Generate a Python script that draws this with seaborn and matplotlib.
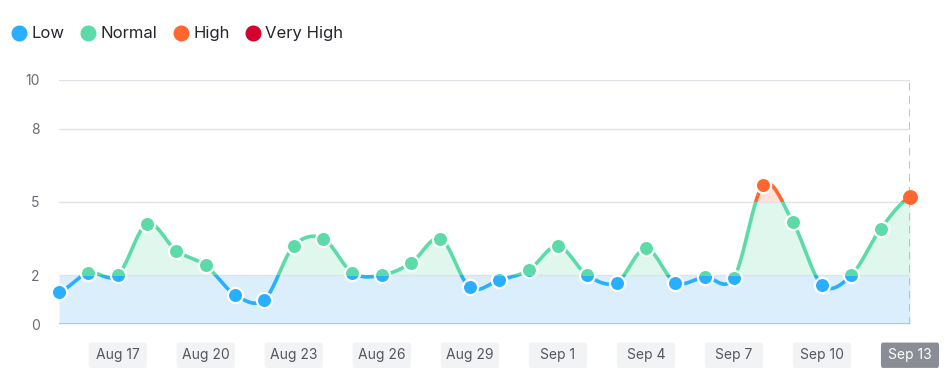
import numpy as np
import pandas as pd
import matplotlib
matplotlib.use("Agg")
import matplotlib.pyplot as plt
import seaborn as sns
from matplotlib.lines import Line2D
from matplotlib.patches import Rectangle, FancyBboxPatch
import matplotlib.transforms as mtransforms

# data
start_date = "2023-08-15"
values = [1.3, 2.1, 2.0, 4.1, 3.0, 2.4, 1.2, 1.0, 3.2, 3.5,
          2.1, 2.0, 2.5, 3.5, 1.5, 1.8, 2.2, 3.2, 2.0, 1.7,
          3.1, 1.7, 1.92, 1.9, 5.7, 4.2, 1.6, 2.0, 3.9, 5.2]
levels = ["Low", "Normal", "High", "Very High"]
level_colors = ["#2AAEFF", "#5CDBA8", "#FF6630", "#D4002E"]
fill_colors = ["#DAEEFC", "#DFF7EC", "#FFE1D8"]
bands = [(-1, 2), (2, 5), (5, 12)]
y_ticks = [0, 2, 5, 8, 10]

dates = pd.date_range(start_date, periods=len(values), freq="D")
x = np.arange(len(values))
y = np.array(values)


def catmull(xp, yp, n=24):
    # smooth curve through the points (uniform catmull-rom)
    m = np.zeros_like(yp)
    m[1:-1] = (yp[2:] - yp[:-2]) / 2
    m[0] = (yp[1] - yp[0]) / 2
    m[-1] = (yp[-1] - yp[-2]) / 2
    xs, ys = [], []
    for i in range(len(xp) - 1):
        t = np.linspace(0, 1, n, endpoint=False)
        h00 = 2 * t**3 - 3 * t**2 + 1
        h10 = t**3 - 2 * t**2 + t
        h01 = -2 * t**3 + 3 * t**2
        h11 = t**3 - t**2
        xs.append(xp[i] + t)
        ys.append(h00 * yp[i] + h10 * m[i] + h01 * yp[i + 1] + h11 * m[i + 1])
    xs.append([xp[-1]])
    ys.append([yp[-1]])
    return np.concatenate(xs), np.concatenate(ys)


sx, sy = catmull(x.astype(float), y)
curve = pd.DataFrame({"x": sx, "y": sy})
points = pd.DataFrame({"x": x, "y": y})

sns.set_theme(style="white")
plt.rcParams["font.family"] = ["Inter", "DejaVu Sans"]

fig = plt.figure(figsize=(9.47, 3.8), dpi=100)
ax = fig.add_axes([59 / 947, 1 - 324 / 380, 851 / 947, 244 / 380])
ax.set_xlim(0, len(values) - 1)
ax.set_ylim(0, 10)


def band_clip(lo, hi):
    return Rectangle((-2, lo), len(values) + 3, hi - lo, transform=ax.transData)


# fills per band
for (lo, hi), fc in zip(bands, fill_colors):
    poly = ax.fill_between(sx, 0, np.maximum(sy, 2), color=fc, lw=0, zorder=1)
    poly.set_clip_path(band_clip(lo, hi))

for t in y_ticks[1:]:
    ax.axhline(t, color="#E1E1E8", lw=1, zorder=2)
ax.axhline(0, color="#A9C2DA", lw=1.2, zorder=2)

ax.axvline(len(values) - 1, color="#ACAFB8", lw=1.8, ls=(0, (3, 2.2)), zorder=2)

# line and markers, split in colour at the level thresholds
for (lo, hi), col in zip(bands, level_colors[:3]):
    sns.lineplot(data=curve, x="x", y="y", ax=ax, color=col, lw=2.6,
                 sort=False, estimator=None, zorder=3)
    ax.lines[-1].set_clip_path(band_clip(lo, hi))
for (lo, hi), col in zip(bands, level_colors[:3]):
    sns.scatterplot(data=points.iloc[:-1], x="x", y="y", ax=ax, color=col, s=120,
                    edgecolor="white", linewidth=1.6, zorder=4)
    ax.collections[-1].set_clip_path(band_clip(lo, hi))

# hovered last point
sns.scatterplot(data=points.iloc[-1:], x="x", y="y", ax=ax, color=level_colors[2],
                s=115, linewidth=0, zorder=5)
ax.collections[-1].set_clip_on(False)

ax.set_xlabel("")
ax.set_ylabel("")
ax.set_yticks(y_ticks)
ax.set_yticklabels([str(t) for t in y_ticks], color="#6A6B75", fontsize=10)
ax.tick_params(axis="y", length=0, pad=14)
ax.set_xticks([])
for s in ax.spines.values():
    s.set_visible(False)

# date labels in rounded boxes
tr = mtransforms.blended_transform_factory(ax.transData, ax.transAxes)
for i in x[2::3]:
    last = i == len(values) - 1
    box = FancyBboxPatch((i - 0.99, -0.18), 1.98, 0.104,
                         boxstyle="round,pad=0,rounding_size=0.06",
                         transform=tr, clip_on=False, lw=0,
                         fc="#8A8C96" if last else "#F2F3F5",
                         mutation_aspect=0.25)
    ax.add_patch(box)
    ax.text(i, -0.128, f"{dates[i]:%b} {dates[i].day}", transform=tr,
            ha="center", va="center", fontsize=10,
            color="white" if last else "#55565F")

handles = [Line2D([], [], marker="o", ls="", markersize=10.5, color=c, label=l)
           for c, l in zip(level_colors, levels)]
fig.legend(handles=handles, loc="upper left", bbox_to_anchor=(-0.006, 0.97),
           ncol=4, frameon=False, fontsize=12, handletextpad=0.15,
           columnspacing=0.8, handlelength=1.2, labelcolor="#25262E")

fig.savefig("out.png", dpi=100)
